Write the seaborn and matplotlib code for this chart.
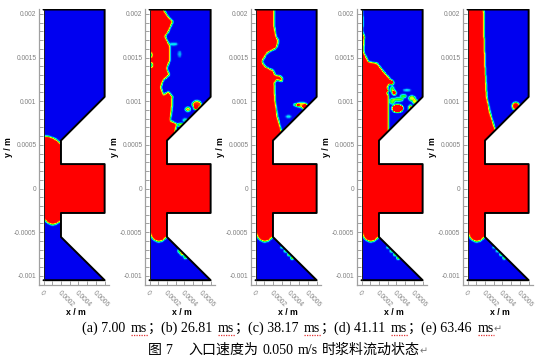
import numpy as np
import pandas as pd
import matplotlib
matplotlib.use('Agg')
import matplotlib.pyplot as plt
import seaborn as sns
from matplotlib.colors import LinearSegmentedColormap
from matplotlib.lines import Line2D
from matplotlib.patches import Polygon
from matplotlib.path import Path
from matplotlib.transforms import Affine2D
from matplotlib.ticker import MultipleLocator

# all lengths, in micrometres
wall_x = [0, 700, 700, 200, 200, 700, 700, 200, 200, 700, 0]
wall_y = [2050, 2050, 1050, 550, 280, 280, -280, -280, -555, -1050, -1050]

y_tick_vals = [-0.001, -0.0005, 0, 0.0005, 0.001, 0.0015, 0.002]
y_tick_text = ['-0.001', '-0.0005', '0', '0.0005', '0.001', '0.0015', '0.002']
x_tick_vals = [0, 0.0002, 0.0004, 0.0006]
x_tick_text = ['0', '0.0002', '0.0004', '0.0006']

# slurry front in the upper chamber, top to bottom
front_a_x = [0, 50, 100, 150, 190, 205]
front_a_y = [603, 600, 585, 560, 525, 500]
front_b_x = [160, 198, 267, 218, 179, 237, 237, 198, 229, 160, 130, 160, 218, 263, 256, 237, 313, 294]
front_b_y = [2060, 1989, 1912, 1798, 1741, 1626, 1473, 1378, 1302, 1244, 1160, 1073, 1111, 1053, 901, 779, 740, 640]
front_c_x = [217, 217, 237, 263, 252, 237, 130, 76, 111, 206, 225, 280, 313, 302, 244, 217, 225, 252, 294, 310]
front_c_y = [2060, 1855, 1740, 1695, 1640, 1607, 1550, 1454, 1397, 1351, 1300, 1290, 1263, 1225, 1244, 1206, 1015, 824, 664, 640]
front_d_x = [8, 15, 11, 34, 23, 80, 176, 271, 359, 309, 283, 309, 309, 309]
front_d_y = [2060, 1931, 1798, 1740, 1569, 1454, 1437, 1319, 1223, 1185, 1108, 1071, 800, 640]
front_e_x = [187, 191, 202, 221, 260, 317, 330]
front_e_y = [2060, 1779, 1397, 1053, 863, 679, 650]

# slurry front in the lower chamber, left to right
lower_a_x = [0, 50, 100, 150, 205]
lower_a_y = [-350, -395, -418, -405, -370]
lower_x = [0, 25, 50, 100, 150, 205]
lower_y = [-505, -560, -590, -612, -600, -550]

# droplets: centre, half widths, level
blobs_a = []
blobs_b = [(542, 964, 52, 40, 0.95), (530, 925, 24, 22, 1.0), (439, 907, 28, 22, 0.9), (275, 1654, 48, 13, 0.38),
           (345, 1540, 18, 36, 0.2), (408, 784, 28, 18, 0.42), (360, 730, 40, 18, 0.7),
           (8, 1530, 20, 26, -0.75), (14, 1415, 22, 26, -0.75),
           (345, -715, 20, 20, 0.65), (375, -745, 24, 22, 0.95), (412, -785, 22, 18, 0.65)]
blobs_c = [(530, 958, 64, 28, 0.8), (470, 958, 34, 17, 0.5), (565, 930, 28, 28, 1.05), (378, 824, 32, 15, 0.32),
           (305, -675, 18, 12, 0.5), (345, -715, 18, 14, 0.6), (385, -755, 18, 15, 0.8), (422, -795, 18, 15, 0.85)]
blobs_d = [(412, 918, 62, 44, 1.5), (374, 1097, 24, 24, 1.2), (290, 1120, 18, 18, 1.05), (348, 1212, 22, 22, 0.95),
           (424, 1020, 56, 20, 0.62), (481, 1059, 36, 18, 0.62), (520, 1127, 46, 11, 0.32), (577, 1033, 38, 30, 0.72),
           (615, 994, 32, 26, 0.72), (560, 915, 22, 42, 0.95), (352, 1000, 28, 34, 0.58), (352, 1135, 22, 34, 0.58),
           (305, -675, 18, 12, 0.5), (345, -715, 18, 14, 0.6), (385, -755, 18, 15, 0.75), (422, -795, 18, 15, 0.8)]
blobs_e = [(553, 945, 44, 44, 1.0), (590, 910, 22, 22, 0.75),
           (305, -675, 18, 11, 0.38), (345, -715, 18, 13, 0.48), (385, -755, 18, 14, 0.62), (422, -795, 18, 14, 0.7)]

front_x = [front_a_x, front_b_x, front_c_x, front_d_x, front_e_x]
front_y = [front_a_y, front_b_y, front_c_y, front_d_y, front_e_y]
low_x = [lower_a_x, lower_x, lower_x, lower_x, lower_x]
low_y = [lower_a_y, lower_y, lower_y, lower_y, lower_y]
blobs = [blobs_a, blobs_b, blobs_c, blobs_d, blobs_e]

W, H = 537, 358
CELL = 5.0
X0, X1, Y0, Y1 = -40.0, 740.0, -1090.0, 2090.0


def field(fx, fy, lx, ly, drops):
    xc = np.arange(X0, X1, CELL) + CELL / 2
    yc = np.arange(Y1, Y0, -CELL) - CELL / 2
    gx, gy = np.meshgrid(xc, yc)
    # red region, left wall down through the centre block to the lower front
    px = [-50] + list(fx) + [720, 720] + list(lx[::-1]) + [-50]
    py = [fy[0]] + list(fy) + [280, -280] + list(ly[::-1]) + [ly[0]]
    pts = np.column_stack([gx.ravel(), gy.ravel()])
    z = Path(np.column_stack([px, py])).contains_points(pts).reshape(gx.shape).astype(float)
    for bx, by, rx, ry, lev in drops:
        z += lev * (((gx - bx) / rx) ** 2 + ((gy - by) / ry) ** 2 < 1)
    # interface smear
    k = np.exp(-0.5 * (np.arange(-6, 7) * CELL / 9.5) ** 2)
    k = k / k.sum()
    z = np.apply_along_axis(lambda r: np.convolve(np.pad(r, 6, mode='edge'), k, mode='valid'), 1, z)
    z = np.apply_along_axis(lambda r: np.convolve(np.pad(r, 6, mode='edge'), k, mode='valid'), 0, z)
    return np.clip(z, 0, 1)


sns.set_theme(style='white')
plt.rcParams['font.family'] = ['Liberation Sans', 'DejaVu Sans']
cmap = LinearSegmentedColormap.from_list('vof', ['#0000f0', '#00e8ff', '#00ff30', '#ffff00', '#ff0000'])
GREY = '#a0a0a0'

fig = plt.figure(figsize=(W / 100, H / 100), dpi=100)
for i in range(5):
    off = 106 * i
    left, right, top, bottom = 38.5 + off, 109 + off, 9.3, 285
    ax = fig.add_axes([left / W, 1 - bottom / H, (right - left) / W, (bottom - top) / H])
    z = field(front_x[i], front_y[i], low_x[i], low_y[i], blobs[i])
    sns.heatmap(pd.DataFrame(z), ax=ax, cmap=cmap, vmin=0, vmax=1, cbar=False, xticklabels=False, yticklabels=False)
    mesh = ax.collections[0]
    mesh.set_transform(Affine2D().scale(CELL * 1e-6, -CELL * 1e-6).translate(X0 * 1e-6, Y1 * 1e-6) + ax.transData)
    wx = np.array(wall_x) * 1e-6
    wy = np.array(wall_y) * 1e-6
    mesh.set_clip_path(Polygon(np.column_stack([wx, wy]), transform=ax.transData))
    sns.lineplot(x=wx, y=wy, sort=False, estimator=None, color='black', lw=1.4, ax=ax)
    sns.lineplot(x=wx[[-1, 0]], y=wy[[-1, 0]], sort=False, estimator=None, color='#202020', lw=0.7, ax=ax)

    ax.set_xlim(-5.73e-5, 7.5e-4)
    ax.set_ylim(-1.105e-3, 2.053e-3)
    ax.set_xticks(x_tick_vals)
    ax.set_xticklabels(x_tick_text, rotation=-45, ha='left', va='top', rotation_mode='anchor')
    ax.set_yticks(y_tick_vals)
    ax.set_yticklabels(y_tick_text)
    ax.xaxis.set_minor_locator(MultipleLocator(1e-4))
    ax.yaxis.set_minor_locator(MultipleLocator(1e-4))
    ax.tick_params(which='both', direction='in', length=3.2, width=0.7, color=GREY,
                   labelsize=4.8, labelcolor='#808080', pad=1.5, bottom=True, left=True)
    ax.tick_params(axis='x', pad=3)
    sns.despine(ax=ax)
    for side in ['left', 'bottom']:
        ax.spines[side].set_visible(True)
        ax.spines[side].set_color(GREY)
        ax.spines[side].set_linewidth(0.9)
    ax.patch.set_alpha(0)
    fig.text((76 + off) / W, 1 - 312.5 / H, 'x / m', fontsize=6.3, fontweight='bold', color='black', ha='center', va='center')
    fig.text((8.5 + off) / W, 1 - 147 / H, 'y / m', fontsize=6.3, fontweight='bold', color='black', rotation=90, ha='center', va='center')

# caption, set in pieces because the spacing of the Word page does not follow the font
serif = ['Liberation Serif', 'Noto Sans CJK SC', 'DejaVu Sans']
line1 = [('(a) 7.00', 82.3), ('ms', 131), ('；', 147.5), ('(b) 26.81', 161), ('ms', 218), ('；', 234.5),
         ('(c) 38.17', 248), ('ms', 304), ('；', 320.5), ('(d) 41.11', 334), ('ms', 391), ('；', 407.5),
         ('(e) 63.46', 421), ('ms', 477.7)]
line2 = [('图', 148), ('7', 165), ('入口速度为', 188.3), ('0.050', 262.7), ('m/s', 297.7), ('时浆料流动状态', 321.7)]
for s, x in line1:
    fig.text(x / W, 1 - 332 / H, s, fontsize=10.08, family=serif, color='black', va='baseline')
    if s == 'ms':
        fig.add_artist(Line2D([x / W, (x + 16.5) / W], [1 - 334.8 / H] * 2, color='#e03030', lw=0.9, ls=(0, (1, 1))))
for s, x in line2:
    fig.text(x / W, 1 - 354 / H, s, fontsize=10.08, family=serif, color='black', va='baseline')
fig.text(494 / W, 1 - 332 / H, '↵', fontsize=7, family=['DejaVu Sans'], color='#777777', va='baseline')
fig.text(419.5 / W, 1 - 354 / H, '↵', fontsize=7, family=['DejaVu Sans'], color='#777777', va='baseline')

fig.savefig('out.png', dpi=100)
